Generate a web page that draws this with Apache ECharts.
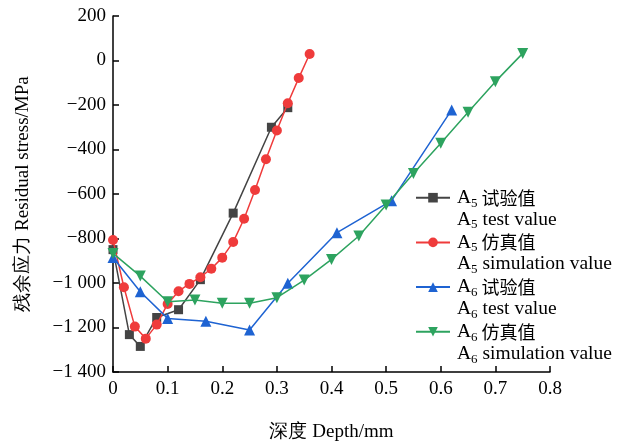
<!DOCTYPE html>
<html><head><meta charset="utf-8">
<script src="https://cdn.jsdelivr.net/npm/echarts@6/dist/echarts.min.js"></script>
<style>html,body{margin:0;padding:0;background:#fff}#c{width:628px;height:443px}</style>
</head><body><div id="c"></div>
<script>
const a5TestX = [0, 0.03, 0.05, 0.08, 0.12, 0.16, 0.22, 0.29, 0.32];
const a5TestY = [-850, -1232, -1285, -1155, -1120, -985, -686, -300, -212];
const a5SimX = [0, 0.02, 0.04, 0.06, 0.08, 0.10, 0.12, 0.14, 0.16, 0.18, 0.20, 0.22, 0.24, 0.26, 0.28, 0.30, 0.32, 0.34, 0.36];
const a5SimY = [-807, -1019, -1196, -1250, -1187, -1094, -1037, -1004, -974, -936, -886, -816, -711, -582, -444, -315, -192, -79, 29];
const a6TestX = [0, 0.05, 0.10, 0.17, 0.25, 0.32, 0.41, 0.51, 0.62];
const a6TestY = [-885, -1039, -1159, -1172, -1211, -1001, -774, -630, -222];
const a6SimX = [0, 0.05, 0.10, 0.15, 0.20, 0.25, 0.30, 0.35, 0.40, 0.45, 0.50, 0.55, 0.60, 0.65, 0.70, 0.75];
const a6SimY = [-867, -969, -1084, -1076, -1091, -1091, -1066, -987, -894, -789, -649, -508, -372, -233, -95, 32];
const xTicks = {min: 0, max: 0.8, step: 0.1};
const yTicks = {min: -1400, max: 200, step: 200};
const names = ['A5 试验值', 'A5 仿真值', 'A6 试验值', 'A6 仿真值'];
const legendLabels = {
  'A5 试验值': '{a|A}{s|5}{c| 试验值}\n{a|A}{s|5}{b| test value}',
  'A5 仿真值': '{a|A}{s|5}{c| 仿真值}\n{a|A}{s|5}{b| simulation value}',
  'A6 试验值': '{a|A}{s|6}{c| 试验值}\n{a|A}{s|6}{b| test value}',
  'A6 仿真值': '{a|A}{s|6}{c| 仿真值}\n{a|A}{s|6}{b| simulation value}'
};
const colors = ['#444444', '#EF3B3B', '#1E63D2', '#2DA35F'];
const symbols = ['rect', 'circle', 'triangle', 'path://M0,0 L10,0 L5,9 Z'];
const sizes = [9, 10, 11, 11];
const xsArr = [a5TestX, a5SimX, a6TestX, a6SimX];
const ysArr = [a5TestY, a5SimY, a6TestY, a6SimY];

const serif = '"Liberation Serif","Times New Roman",serif';
const cjk = '"Noto Sans CJK SC",sans-serif';
function fmtY(v) {
  const s = Math.abs(v).toString().replace(/\B(?=(\d{3})+(?!\d))/g, ' ');
  return (v < 0 ? '\u2212' : '') + s;
}
const chart = echarts.init(document.getElementById('c'), null, {renderer: 'canvas'});
chart.setOption({
  animation: false,
  grid: {left: 113, right: 78, top: 16, bottom: 71, containLabel: false, outerBoundsMode: 'none'},
  xAxis: {
    type: 'value', min: xTicks.min, max: xTicks.max, interval: xTicks.step,
    name: '深度 Depth/mm', nameLocation: 'middle', nameGap: 51,
    nameTextStyle: {fontFamily: serif, fontSize: 19, color: '#000'},
    axisLine: {show: true, onZero: false, lineStyle: {color: '#000', width: 1.5}},
    axisTick: {show: true, inside: true, length: 6, lineStyle: {color: '#000', width: 1.5}},
    axisLabel: {fontFamily: serif, fontSize: 19, color: '#000', margin: 8},
    splitLine: {show: false}
  },
  yAxis: {
    type: 'value', min: yTicks.min, max: yTicks.max, interval: yTicks.step,
    name: '残余应力 Residual stress/MPa', nameLocation: 'middle', nameGap: 80, nameRotate: 90,
    nameTextStyle: {fontFamily: serif, fontSize: 19, color: '#000'},
    axisLine: {show: true, onZero: false, lineStyle: {color: '#000', width: 1.5}},
    axisTick: {show: true, inside: true, length: 6, lineStyle: {color: '#000', width: 1.5}},
    axisLabel: {fontFamily: serif, fontSize: 19, color: '#000', margin: 7, formatter: fmtY},
    splitLine: {show: false}
  },
  legend: {
    orient: 'vertical', left: 410, top: 160,
    itemWidth: 34, itemHeight: 12, itemGap: -21.8,
    data: names,
    formatter: n => legendLabels[n],
    textStyle: {
      fontFamily: serif, fontSize: 19, color: '#000', lineHeight: 21.8, padding: [21.8, 0, 0, 2],
      rich: {
        a: {fontFamily: serif, fontSize: 19.5, lineHeight: 21.8},
        s: {fontFamily: serif, fontSize: 13, lineHeight: 13, padding: [11, 0, 0, 0]},
        b: {fontFamily: serif, fontSize: 19.5, lineHeight: 21.8},
        c: {fontFamily: cjk, fontSize: 18, lineHeight: 21.8}
      }
    }
  },
  series: names.map((n, i) => ({
    name: n, type: 'line',
    data: xsArr[i].map((x, j) => [x, ysArr[i][j]]),
    symbol: symbols[i], symbolSize: sizes[i],
    lineStyle: {color: colors[i], width: 1.5},
    itemStyle: {color: colors[i]},
    z: 2 + i
  }))
});
</script></body></html>
